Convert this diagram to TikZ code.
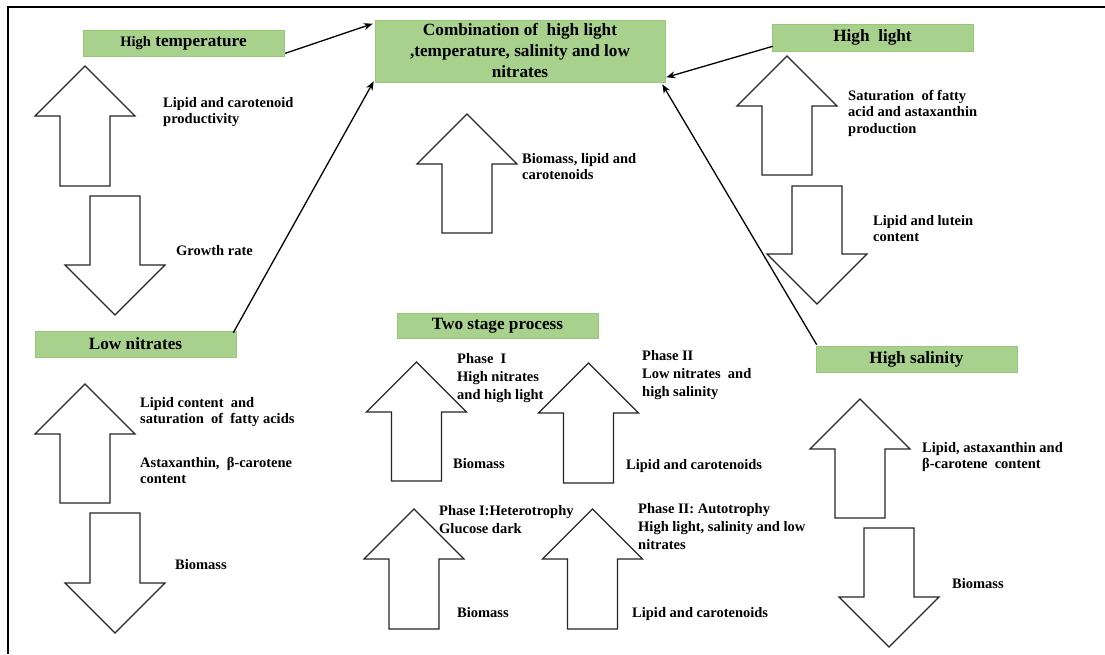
\documentclass[tikz,border=0pt]{standalone}
\usepackage{fontspec}
\setmainfont{Liberation Serif}
\usetikzlibrary{arrows.meta,calc}
\definecolor{gfill}{RGB}{169,209,142}
\definecolor{gline}{RGB}{150,200,120}
\newcommand\UpArr[3]{\draw[blockarr] ({#1-25},#3) -- ({#1-25},{#2+50}) -- ({#1-50},{#2+50}) -- (#1,#2) -- ({#1+50},{#2+50}) -- ({#1+25},{#2+50}) -- ({#1+25},#3) -- cycle;}
\newcommand\DnArr[3]{\draw[blockarr] ({#1-25},#2) -- ({#1-25},{#3-50}) -- ({#1-50},{#3-50}) -- (#1,#3) -- ({#1+50},{#3-50}) -- ({#1+25},{#3-50}) -- ({#1+25},#2) -- cycle;}
\begin{document}
\begin{tikzpicture}[x=1pt,y=-1pt,
  gbox/.style={draw=gline, fill=gfill, line width=0.6pt, minimum width=201pt, minimum height=26pt, inner sep=0pt, font=\fontsize{17.2}{19}\selectfont\bfseries},
  txt/.style={inner sep=0pt, align=left, font=\fontsize{14.5}{16.5}\selectfont\bfseries},
  txtb/.style={inner sep=0pt, align=left, font=\fontsize{14.5}{18}\selectfont\bfseries},
  conn/.style={line width=1.3pt, -{Stealth[length=9pt,width=7pt]}},
  blockarr/.style={draw=black!85, line width=1.1pt, fill=white, line join=miter}]
\useasboundingbox (0,0) rectangle (1105,654);
\fill[white] (0,0) rectangle (1105,654);
% frame
\draw[line width=2pt] (8,654) -- (8,7) -- (1105,7);

% block arrows
\UpArr{85}{66}{186}
\DnArr{115}{196}{315}
\UpArr{85}{384}{503}
\DnArr{115}{513}{633}
\UpArr{467}{114}{233}
\UpArr{787}{56}{175}
\DnArr{817}{186}{304}
\UpArr{860}{399}{518}
\DnArr{889}{528}{647}
\UpArr{416.5}{362}{481}
\UpArr{588.5}{363}{483}
\UpArr{414}{509}{629}
\UpArr{592.5}{509}{629}

% green boxes
\node[gbox] (ht) at (183.5,43) {{\fontsize{14.5}{14.5}\selectfont High} temperature};
\node[gbox, minimum width=290pt, minimum height=62pt, align=center, font=\fontsize{17.2}{21}\selectfont\bfseries] (comb) at (520,51) {Combination of\ \ high light\\,temperature, salinity and low\\nitrates};
\node[gbox, minimum height=27pt] (hl) at (872.5,37.5) {High\ \ light};
\node[gbox] (ln) at (135.5,344) {Low nitrates};
\node[gbox, minimum height=25pt] (ts) at (497.5,325.5) {Two stage process};
\node[gbox] (hs) at (916.5,359) {High salinity};

% connectors
\draw[conn] ($(ht.south east)+(1,-3)$) -- ($(comb.north west)+(-2,4)$);
\draw[conn] ($(ln.north east)+(-3,2)$) -- ($(comb.south west)+(-1,-1)$);
\draw[conn] ($(hl.south west)+(1,-5)$) -- ($(comb.south east)+(1,-5)$);
\draw[conn] ($(hs.north west)+(1,-1)$) -- ($(comb.south east)+(-3,2)$);

% texts
\node[txt, anchor=north west] (t1) at (163,97) {Lipid and carotenoid\\productivity};
\node[txt, anchor=west] (t2) at (176,251) {Growth rate};
\node[txt, anchor=north west] (t3) at (522,153) {Biomass, lipid and\\carotenoids};
\node[txt, anchor=north west] (t4) at (848,90) {Saturation\ \ of fatty\\acid and astaxanthin\\production};
\node[txt, anchor=north west] (t5) at (873,215) {Lipid and lutein\\content};
\node[txt, anchor=north west] (t6) at (140,397) {Lipid content\ \ and\\saturation\ \ of\ \ fatty acids};
\node[txt, anchor=north west] (t7) at (140,457) {Astaxanthin,\ \ β-carotene\\content};
\node[txt, anchor=west] (t8) at (175,565) {Biomass};
\node[txtb, anchor=north west] (t9) at (457,353) {Phase\ \ I\\High nitrates\\and high light};
\node[txt, anchor=west] (t10) at (453,464) {Biomass};
\node[txtb, anchor=north west] (t11) at (642,350) {Phase II\\Low nitrates\ \ and\\high salinity};
\node[txt, anchor=west] (t12) at (626,466) {Lipid and carotenoids};
\node[txtb, anchor=north west] (t13) at (439,505) {Phase I:Heterotrophy\\Glucose dark};
\node[txt, anchor=west] (t14) at (457,613) {Biomass};
\node[txtb, anchor=north west] (t15) at (638,503) {Phase II: Autotrophy\\High light, salinity and low\\nitrates};
\node[txt, anchor=west] (t16) at (632,614) {Lipid and carotenoids};
\node[txt, anchor=north west] (t17) at (922,442) {Lipid, astaxanthin and\\β-carotene\ \ content};
\node[txt, anchor=west] (t18) at (952,584) {Biomass};
\end{tikzpicture}
\end{document}
